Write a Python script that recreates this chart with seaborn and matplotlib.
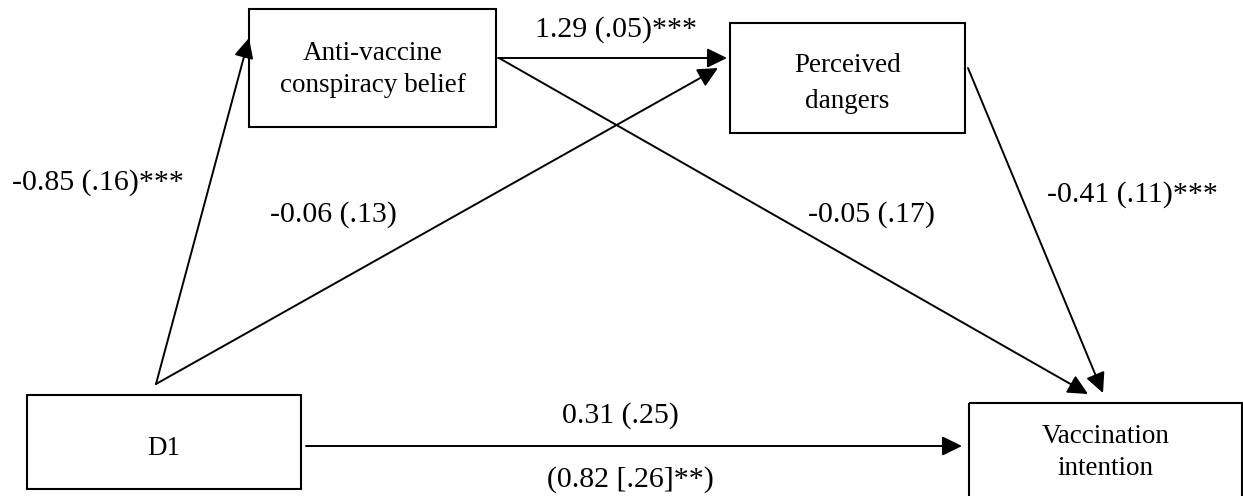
import matplotlib
matplotlib.use("Agg")
import matplotlib.pyplot as plt
import seaborn as sns
from matplotlib.patches import Rectangle

# node labels (one string per line)
node_names = ["anti", "danger", "d1", "vacc"]
node_lines = [
    ["Anti-vaccine", "conspiracy belief"],
    ["Perceived", "dangers"],
    ["D1"],
    ["Vaccination", "intention"],
]

# path coefficients, b (se)
path_from = ["d1", "anti", "d1", "anti", "danger", "d1"]
path_to = ["anti", "danger", "danger", "vacc", "vacc", "vacc"]
path_labels = [
    "-0.85 (.16)***",
    "1.29 (.05)***",
    "-0.06 (.13)",
    "-0.05 (.17)",
    "-0.41 (.11)***",
    "0.31 (.25)",
]
total_effect_label = "(0.82 [.26]**)"

# ---- layout (pixel coords, y downwards) ----
boxes = {
    "anti": (249, 9, 496, 127),
    "danger": (730, 23, 965, 133),
    "d1": (27, 395, 301, 489),
    "vacc": (969, 403, 1242, 500),
}
text_base = {
    "anti": [60, 92],
    "danger": [72, 108],
    "d1": [455],
    "vacc": [443, 475],
}
arrow_xy = [
    ((156, 384), (249, 38)),
    ((498, 58), (727, 58)),
    ((156, 384), (718, 68)),
    ((499, 58), (1088, 394)),
    ((968, 68), (1103, 393)),
    ((306, 446), (962, 446)),
]
label_xy = [(98, 190), (616, 37), (333, 222), (872, 222), (1132, 202), (620, 423)]
total_xy = (630, 487)

sns.set_style("white")
plt.rcParams["font.family"] = ["Liberation Serif", "DejaVu Serif"]

fig = plt.figure(figsize=(12.43, 4.96), dpi=100)
ax = fig.add_axes([0, 0, 1, 1])
ax.set_xlim(0, 1243)
ax.set_ylim(496, 0)
ax.axis("off")

for name, lines in zip(node_names, node_lines):
    x0, y0, x1, y1 = boxes[name]
    ax.add_patch(Rectangle((x0, y0), x1 - x0, y1 - y0, fill=False,
                           edgecolor="black", lw=1.5))
    for line, yb in zip(lines, text_base[name]):
        ax.text((x0 + x1) / 2, yb, line, ha="center", va="baseline",
                fontsize=19.5, color="black")

for (start, end) in arrow_xy:
    ax.annotate("", xy=end, xytext=start,
                arrowprops=dict(arrowstyle="-|>,head_length=0.45,head_width=0.22",
                                mutation_scale=27, lw=1.4, color="black",
                                shrinkA=0, shrinkB=0))

for lab, (x, y) in zip(path_labels, label_xy):
    ax.text(x, y, lab, ha="center", va="baseline", fontsize=21.5, color="black")
ax.text(total_xy[0], total_xy[1], total_effect_label, ha="center",
        va="baseline", fontsize=21.5, color="black")

fig.savefig("out.png", dpi=100)
